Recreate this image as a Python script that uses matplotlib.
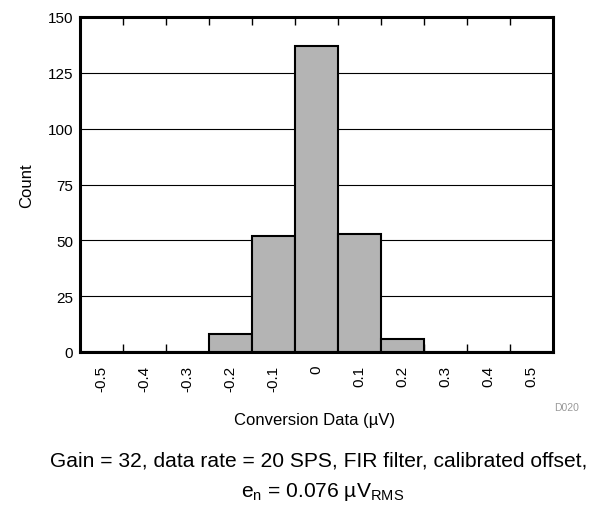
import numpy as np
import matplotlib.pyplot as plt

plt.rcParams['font.family'] = ['Liberation Sans', 'DejaVu Sans']

# Histogram bins (center, µV) and counts
centros = [-0.5, -0.4, -0.3, -0.2, -0.1, 0.0, 0.1, 0.2, 0.3, 0.4, 0.5]
conteos = [0, 0, 0, 8, 52, 137, 53, 6, 0, 0, 0]
etiquetas = ['-0.5', '-0.4', '-0.3', '-0.2', '-0.1', '0', '0.1', '0.2', '0.3', '0.4', '0.5']
y_ticks = [0, 25, 50, 75, 100, 125, 150]

fig = plt.figure(figsize=(5.9, 5.06), dpi=100)
ax = fig.add_axes([80 / 590, 153 / 506, 473 / 590, 335 / 506])

ax.set_axisbelow(True)
ax.yaxis.grid(True, color='black', linewidth=0.8)
ax.bar(centros, conteos, width=0.1, color='#b4b4b4', edgecolor='black', linewidth=1.5)

ax.set_xlim(-0.55, 0.55)
ax.set_ylim(0, 150)
ax.set_yticks(y_ticks)
ax.set_xticks(centros)
ax.set_xticklabels(etiquetas, rotation=90)
# tick marks only at bin edges
bordes = [c + 0.05 for c in centros[:-1]]
ax.set_xticks(bordes, minor=True)
ax.tick_params(axis='x', which='major', length=0, labelsize=11, pad=9)
ax.tick_params(axis='x', which='minor', direction='in', length=6, width=1, top=True, bottom=True)
ax.tick_params(axis='y', which='major', length=0, labelsize=11, pad=5)

for s in ax.spines.values():
    s.set_linewidth(2.2)

ax.set_ylabel('Count', fontsize=12)
ax.set_xlabel('Conversion Data (µV)', fontsize=12)
ax.yaxis.set_label_coords(-0.097, 0.5)
ax.xaxis.set_label_coords(0.495, -0.178)

fig.text(567 / 590, 1 - 408 / 506, 'D020', fontsize=7.5, color='#999999', ha='center', va='center')
fig.text(319 / 590, 1 - 467 / 506, 'Gain = 32, data rate = 20 SPS, FIR filter, calibrated offset,',
         fontsize=15.1, ha='center', va='baseline')
fig.text(323 / 590, 1 - 497 / 506, r'e$_\mathregular{n}$ = 0.076 µV$_\mathregular{RMS}$',
         fontsize=15.1, ha='center', va='baseline')

plt.savefig('out.png', dpi=100)
plt.close()
